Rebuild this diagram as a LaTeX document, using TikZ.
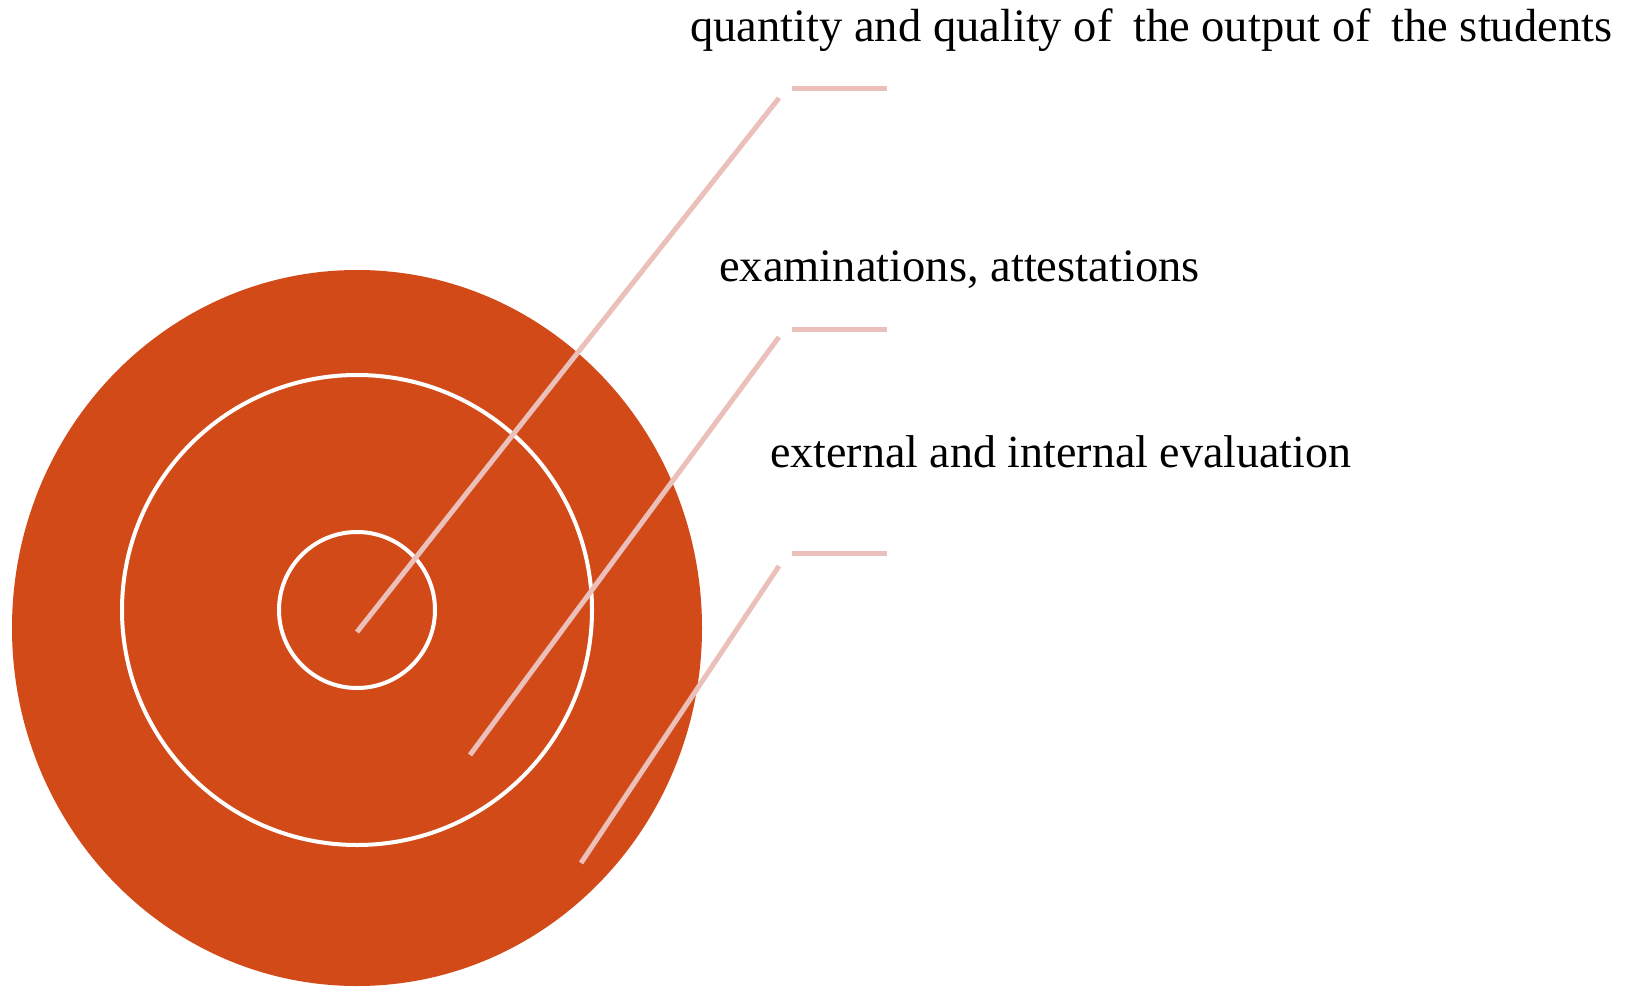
\documentclass[tikz,border=0pt]{standalone}
\usepackage{fontspec}
\setmainfont{Liberation Serif}
\definecolor{orangeC}{HTML}{D24A18}
\definecolor{pinkC}{HTML}{EBC0BA}
\begin{document}
\begin{tikzpicture}[x=1pt,y=-1pt,
  ring/.style={draw=white,line width=4pt},
  leader/.style={draw=pinkC,line width=5pt},
  lbl/.style={anchor=base west,inner sep=0pt,font=\fontsize{46.5}{50}\selectfont}]
\useasboundingbox (0,0) rectangle (1633,987);
\fill[orangeC] (357,628) ellipse [x radius=345, y radius=358];
\draw[ring] (357,610) circle [radius=235];
\draw[ring] (357,610) circle [radius=78];
% leader end points
\coordinate (a1) at (357,632);
\coordinate (b1) at (779,98);
\coordinate (c1) at (792,89);
\coordinate (d1) at (887,89);
\coordinate (a2) at (470,755);
\coordinate (b2) at (779,337);
\coordinate (c2) at (792,329);
\coordinate (d2) at (887,329);
\coordinate (a3) at (581,863);
\coordinate (b3) at (779,566);
\coordinate (c3) at (792,553);
\coordinate (d3) at (887,553);
\draw[leader] (a1) -- (b1);
\draw[leader] (c1) -- (d1);
\draw[leader] (a2) -- (b2);
\draw[leader] (c2) -- (d2);
\draw[leader] (a3) -- (b3);
\draw[leader] (c3) -- (d3);
\node[lbl] (t1) at (690,42) {quantity and quality of\hspace{9pt} the output of\hspace{9pt} the students};
\node[lbl] (t2) at (719,281) {examinations, attestations};
\node[lbl,font=\fontsize{46}{50}\selectfont] (t3) at (770,467) {external and internal evaluation};
\end{tikzpicture}
\end{document}
